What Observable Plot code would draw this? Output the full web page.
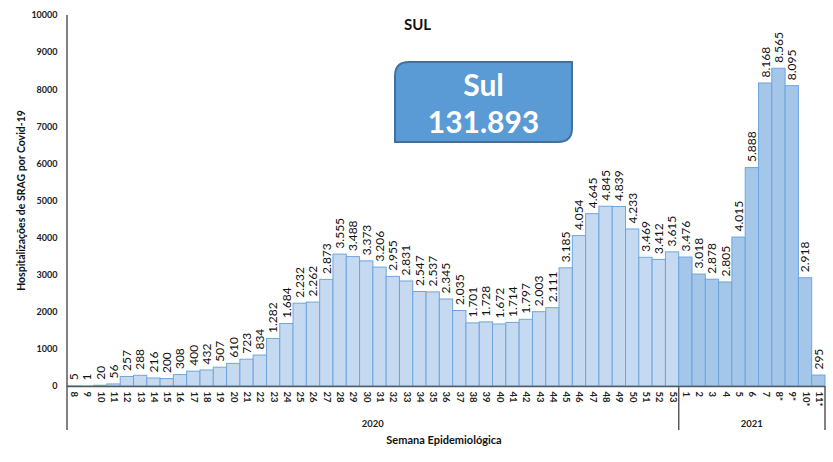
<!DOCTYPE html>
<html>
<head>
<meta charset="utf-8">
<script src="https://cdn.jsdelivr.net/npm/d3@7"></script>
<script src="https://cdn.jsdelivr.net/npm/@observablehq/plot@0.6"></script>
<style>
  html, body { margin: 0; padding: 0; background: #fff; }
  #chart svg { font-family: Lato, "Open Sans", sans-serif; }
</style>
</head>
<body>
<div id="chart"></div>
<script>
const weeks2020 = ["8","9","10","11","12","13","14","15","16","17","18","19","20","21","22","23","24","25","26","27","28","29","30","31","32","33","34","35","36","37","38","39","40","41","42","43","44","45","46","47","48","49","50","51","52","53"];
const values2020 = [5,1,20,56,257,288,216,200,308,400,432,507,610,723,834,1282,1684,2232,2262,2873,3555,3488,3373,3206,2955,2831,2547,2537,2345,2035,1701,1728,1672,1714,1797,2003,2111,3185,4054,4645,4845,4839,4233,3469,3412,3615];
const weeks2021 = ["1","2","3","4","5","6","7","8*","9*","10*","11*"];
const values2021 = [3476,3018,2878,2805,4015,5888,8168,8565,8095,2918,295];
const yTicks = [0,1000,2000,3000,4000,5000,6000,7000,8000,9000,10000];
const title = "SUL";
const boxName = "Sul";
const boxTotal = "131.893";
const yLabel = "Hospitalizações de SRAG por Covid-19";
const xLabel = "Semana Epidemiológica";
const years = ["2020", "2021"];

const rows2020 = weeks2020.map((w, i) => ({key: "2020-" + w, week: w, value: values2020[i], year: "2020"}));
const rows2021 = weeks2021.map((w, i) => ({key: "2021-" + w, week: w, value: values2021[i], year: "2021"}));
const rows = rows2020.concat(rows2021);
const keys = rows.map(d => d.key);

const br = d3.formatLocale({decimal: ",", thousands: ".", grouping: [3], currency: ["", ""]});
const fmt = br.format(",d");

const W = 833, H = 462;
const chart = Plot.plot({
  width: W,
  height: H,
  marginLeft: 67,
  marginRight: 8,
  marginTop: 15,
  marginBottom: 76,
  style: {background: "#fff", fontFamily: "Lato, 'Open Sans', sans-serif", overflow: "visible"},
  x: {domain: keys, padding: 0, round: false, axis: null},
  y: {domain: [0, 10000], axis: null},
  marks: [
    Plot.barY(rows2020, {x: "key", y: "value", fill: "#c5daf0", stroke: "#6fa5dd", strokeWidth: 1}),
    Plot.barY(rows2021, {x: "key", y: "value", fill: "#a3c6e9", stroke: "#6fa5dd", strokeWidth: 1}),
    Plot.axisY({ticks: yTicks, tickSize: 0, tickPadding: 10, tickFormat: d3.format("d"), fontSize: 9, fontWeight: "bold", fill: "#222", label: null}),
    Plot.text(rows, {x: "key", frameAnchor: "bottom", text: "week", rotate: 90, textAnchor: "start", lineAnchor: "middle", dy: 5, fontSize: 9.5, fontWeight: "bold", fill: "#222"}),
    Plot.ruleY([0], {stroke: "#595959", strokeWidth: 1.5}),
    Plot.text(rows, {x: "key", y: "value", text: d => fmt(d.value), rotate: -90, textAnchor: "start", lineAnchor: "middle", dy: -6, fontSize: 12, fill: "#111"}),
    Plot.text([title], {frameAnchor: "top", dx: -29, dy: 4, fontSize: 15, fontWeight: "bold", fill: "#111"})
  ]
});

document.getElementById("chart").appendChild(chart);

const svg = d3.select(chart);
const xs = chart.scale("x");
const ys = chart.scale("y");
const bw = xs.bandwidth;
const x0 = xs.apply(keys[0]);
const xMid = xs.apply(rows2021[0].key);
const xEnd = xs.apply(keys[keys.length - 1]) + bw;
const yBase = ys.apply(0);
const yBottom = yBase + 44;
const g = svg.append("g").attr("stroke", "#595959").attr("stroke-width", 1.5);
g.append("line").attr("x1", x0).attr("x2", x0).attr("y1", ys.apply(10000)).attr("y2", yBottom);
g.append("line").attr("x1", xMid).attr("x2", xMid).attr("y1", yBase).attr("y2", yBottom);
g.append("line").attr("x1", xEnd).attr("x2", xEnd).attr("y1", yBase).attr("y2", yBottom);

const yearCenters = [(x0 + xMid) / 2, (xMid + xEnd) / 2];
years.forEach((yr, i) => {
  svg.append("text").attr("x", yearCenters[i]).attr("y", yBase + 41)
    .attr("text-anchor", "middle").attr("font-size", 9.5).attr("font-weight", "bold").attr("fill", "#222").text(yr);
});
svg.append("text").attr("x", (x0 + xEnd) / 2 - 2).attr("y", yBase + 58)
  .attr("text-anchor", "middle").attr("font-size", 11).attr("font-weight", "bold").attr("fill", "#111").text(xLabel);
svg.append("text").attr("transform", `translate(25,${(ys.apply(0) + ys.apply(10000)) / 2}) rotate(-90)`)
  .attr("text-anchor", "middle").attr("font-size", 10.5).attr("font-weight", "bold").attr("fill", "#111").text(yLabel);

// annotation box
const bx = 395, by = 62, bwid = 177, bh = 80, r = 14;
svg.append("path")
  .attr("d", `M${bx + r},${by} H${bx + bwid} V${by + bh - r} Q${bx + bwid},${by + bh} ${bx + bwid - r},${by + bh} H${bx} V${by + r} Q${bx},${by} ${bx + r},${by} Z`)
  .attr("fill", "#5b9bd5").attr("stroke", "#41719c").attr("stroke-width", 2);
svg.append("text").attr("x", bx + bwid / 2).attr("y", by + 34).attr("text-anchor", "middle")
  .attr("font-size", 30).attr("font-weight", "bold").attr("fill", "#fff").text(boxName);
svg.append("text").attr("x", bx + bwid / 2).attr("y", by + 71).attr("text-anchor", "middle")
  .attr("font-size", 30).attr("font-weight", "bold").attr("fill", "#fff").text(boxTotal);
</script>
</body>
</html>
